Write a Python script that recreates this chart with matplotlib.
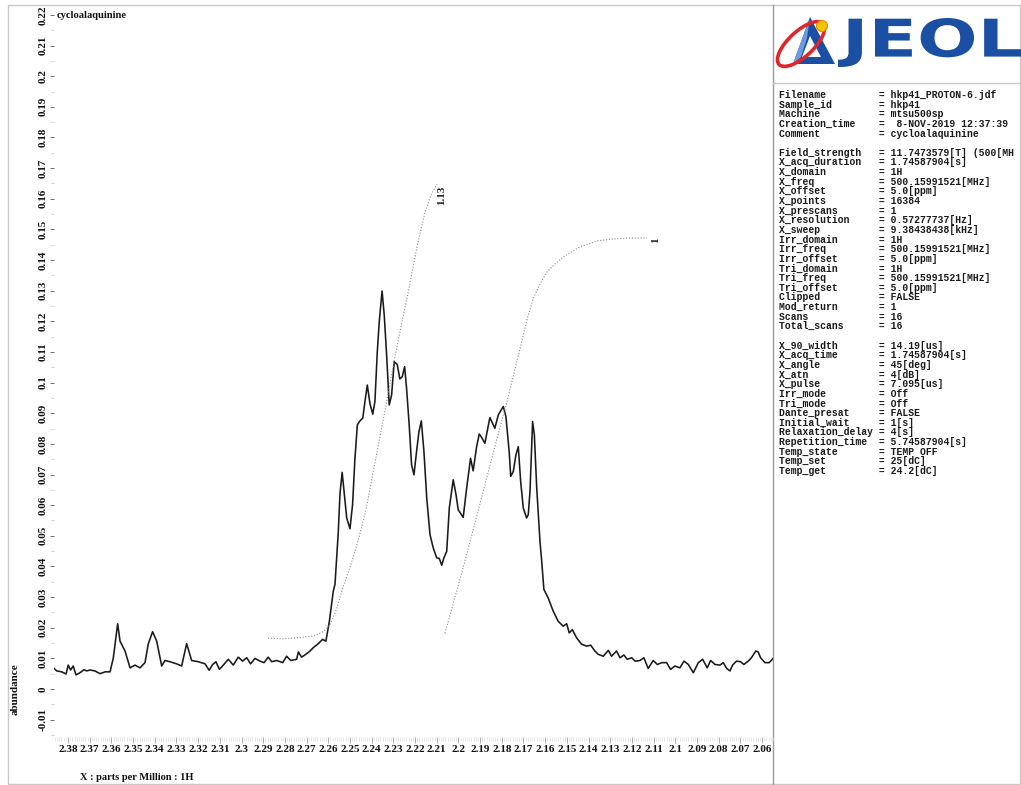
import matplotlib
matplotlib.use("Agg")
import matplotlib.pyplot as plt
from matplotlib.ticker import FixedLocator, MultipleLocator, FuncFormatter
from matplotlib.patches import Rectangle, Polygon, Ellipse, Circle, PathPatch
from matplotlib.textpath import TextPath
from matplotlib.font_manager import FontProperties
from matplotlib.transforms import Affine2D

plt.rcParams["font.family"] = ["Liberation Serif", "DejaVu Serif"]

# ---------------------------------------------------------------- data
title = "cycloalaquinine"
x_label = "X : parts per Million : 1H"
y_label = "abundance"

shift_ppm = [
    2.3871, 2.3852, 2.3829, 2.3809, 2.3799, 2.3788, 2.3776, 2.3763, 2.3745, 2.3726,
    2.3714, 2.3699, 2.3676, 2.3652, 2.3629, 2.3606, 2.3591, 2.3571, 2.3560, 2.3537,
    2.3514, 2.3491, 2.3468, 2.3445, 2.3430, 2.3410, 2.3391, 2.3368, 2.3353, 2.3330,
    2.3299, 2.3276, 2.3253, 2.3230, 2.3199, 2.3168, 2.3149, 2.3133, 2.3118, 2.3102,
    2.3084, 2.3061, 2.3038, 2.3015, 2.2995, 2.2976, 2.2958, 2.2938, 2.2915, 2.2896,
    2.2877, 2.2861, 2.2838, 2.2810, 2.2792, 2.2773, 2.2746, 2.2738, 2.2723, 2.2700,
    2.2684, 2.2669, 2.2646, 2.2626, 2.2611, 2.2595, 2.2577, 2.2569, 2.2554, 2.2546,
    2.2536, 2.2515, 2.2500, 2.2488, 2.2477, 2.2466, 2.2454, 2.2441, 2.2431, 2.2420,
    2.2408, 2.2395, 2.2385, 2.2374, 2.2365, 2.2352, 2.2342, 2.2331, 2.2319, 2.2308,
    2.2296, 2.2282, 2.2270, 2.2259, 2.2248, 2.2239, 2.2227, 2.2216, 2.2205, 2.2193,
    2.2182, 2.2171, 2.2159, 2.2146, 2.2131, 2.2116, 2.2100, 2.2088, 2.2077, 2.2067,
    2.2054, 2.2042, 2.2024, 2.2011, 2.2001, 2.1978, 2.1962, 2.1944, 2.1932, 2.1916,
    2.1904, 2.1893, 2.1878, 2.1855, 2.1832, 2.1816, 2.1793, 2.1781, 2.1766, 2.1759,
    2.1747, 2.1735, 2.1724, 2.1713, 2.1701, 2.1686, 2.1678, 2.1670, 2.1658, 2.1650,
    2.1639, 2.1624, 2.1616, 2.1606, 2.1586, 2.1563, 2.1540, 2.1517, 2.1501, 2.1489,
    2.1475, 2.1455, 2.1432, 2.1409, 2.1390, 2.1371, 2.1355, 2.1332, 2.1309, 2.1294,
    2.1271, 2.1255, 2.1237, 2.1222, 2.1201, 2.1186, 2.1163, 2.1145, 2.1125, 2.1102,
    2.1083, 2.1063, 2.1040, 2.1022, 2.1002, 2.0979, 2.0960, 2.0940, 2.0917, 2.0894,
    2.0874, 2.0853, 2.0837, 2.0817, 2.0794, 2.0779, 2.0763, 2.0748, 2.0736, 2.0718,
    2.0699, 2.0684, 2.0664, 2.0649, 2.0629, 2.0618, 2.0607, 2.0587, 2.0567, 2.0549,
]
abundance = [
    0.0072, 0.0059, 0.0056, 0.0049, 0.0078, 0.0062, 0.0075, 0.0046, 0.0053, 0.0063,
    0.0059, 0.0062, 0.0059, 0.0050, 0.0056, 0.0056, 0.0102, 0.0213, 0.0156, 0.0124,
    0.0069, 0.0078, 0.0069, 0.0086, 0.0147, 0.0187, 0.0156, 0.0075, 0.0093, 0.0089,
    0.0082, 0.0075, 0.0148, 0.0093, 0.0089, 0.0082, 0.0061, 0.0080, 0.0089, 0.0064,
    0.0078, 0.0097, 0.0078, 0.0104, 0.0091, 0.0102, 0.0082, 0.0100, 0.0091, 0.0086,
    0.0104, 0.0089, 0.0093, 0.0086, 0.0107, 0.0093, 0.0097, 0.0121, 0.0104, 0.0115,
    0.0124, 0.0135, 0.0148, 0.0162, 0.0156, 0.0221, 0.0319, 0.0342, 0.0511, 0.0638,
    0.0707, 0.0558, 0.0523, 0.0602, 0.0753, 0.0862, 0.0875, 0.0884, 0.0938, 0.0992,
    0.0932, 0.0897, 0.0938, 0.1101, 0.1199, 0.1299, 0.1220, 0.1090, 0.0927, 0.0960,
    0.1068, 0.1059, 0.1012, 0.1019, 0.1052, 0.0981, 0.0862, 0.0732, 0.0699, 0.0775,
    0.0840, 0.0875, 0.0775, 0.0623, 0.0504, 0.0460, 0.0428, 0.0426, 0.0404, 0.0428,
    0.0449, 0.0591, 0.0683, 0.0634, 0.0585, 0.0560, 0.0656, 0.0753, 0.0712, 0.0791,
    0.0832, 0.0821, 0.0802, 0.0886, 0.0851, 0.0895, 0.0922, 0.0889, 0.0775, 0.0694,
    0.0710, 0.0764, 0.0791, 0.0677, 0.0591, 0.0558, 0.0569, 0.0645, 0.0873, 0.0830,
    0.0656, 0.0482, 0.0417, 0.0325, 0.0297, 0.0254, 0.0221, 0.0205, 0.0213, 0.0183,
    0.0194, 0.0167, 0.0146, 0.0140, 0.0143, 0.0124, 0.0113, 0.0107, 0.0126, 0.0107,
    0.0124, 0.0102, 0.0111, 0.0097, 0.0102, 0.0091, 0.0093, 0.0102, 0.0067, 0.0093,
    0.0080, 0.0086, 0.0086, 0.0064, 0.0075, 0.0069, 0.0091, 0.0080, 0.0053, 0.0086,
    0.0097, 0.0069, 0.0093, 0.0080, 0.0078, 0.0086, 0.0067, 0.0059, 0.0078, 0.0091,
    0.0089, 0.0080, 0.0091, 0.0102, 0.0124, 0.0121, 0.0102, 0.0086, 0.0086, 0.0100,
]

# integral traces (drawn on the abundance scale)
integral1_ppm = [2.2878, 2.2809, 2.2730, 2.2661, 2.2620, 2.2592, 2.2564, 2.2532,
                 2.2500, 2.2463, 2.2426, 2.2380, 2.2334, 2.2297, 2.2265, 2.2233,
                 2.2191, 2.2154, 2.2127, 2.2099]
integral1_val = [0.0166, 0.0164, 0.0168, 0.0174, 0.0189, 0.0208, 0.0257, 0.0332,
                 0.0397, 0.0482, 0.0586, 0.0756, 0.0925, 0.1068, 0.1182, 0.1290,
                 0.1443, 0.1557, 0.1612, 0.1648]
integral2_ppm = [2.2062, 2.1979, 2.1901, 2.1822, 2.1776, 2.1716, 2.1684, 2.1656,
                 2.1624, 2.1592, 2.1555, 2.1518, 2.1440, 2.1361, 2.1288, 2.1209,
                 2.1131]
integral2_val = [0.0182, 0.0394, 0.0603, 0.0818, 0.0938, 0.1111, 0.1205, 0.1273,
                 0.1322, 0.1361, 0.1387, 0.1410, 0.1443, 0.1462, 0.1469, 0.1472,
                 0.1472]
integral_labels = ["1.13", "1"]
integral_label_ppm = [2.2076, 2.1089]
integral_label_val = [0.1612, 0.1466]

x_major = [round(2.38 - 0.01 * i, 2) for i in range(33)]
y_major = [round(-0.01 + 0.01 * i, 2) for i in range(24)]

header_keys = ["Filename", "Sample_id", "Machine", "Creation_time", "Comment"]
header_vals = ["hkp41_PROTON-6.jdf", "hkp41", "mtsu500sp",
               " 8-NOV-2019 12:37:39", "cycloalaquinine"]
acq_keys = ["Field_strength", "X_acq_duration", "X_domain", "X_freq", "X_offset",
            "X_points", "X_prescans", "X_resolution", "X_sweep", "Irr_domain",
            "Irr_freq", "Irr_offset", "Tri_domain", "Tri_freq", "Tri_offset",
            "Clipped", "Mod_return", "Scans", "Total_scans"]
acq_vals = ["11.7473579[T] (500[MH", "1.74587904[s]", "1H", "500.15991521[MHz]",
            "5.0[ppm]", "16384", "1", "0.57277737[Hz]", "9.38438438[kHz]", "1H",
            "500.15991521[MHz]", "5.0[ppm]", "1H", "500.15991521[MHz]", "5.0[ppm]",
            "FALSE", "1", "16", "16"]
pulse_keys = ["X_90_width", "X_acq_time", "X_angle", "X_atn", "X_pulse", "Irr_mode",
              "Tri_mode", "Dante_presat", "Initial_wait", "Relaxation_delay",
              "Repetition_time", "Temp_state", "Temp_set", "Temp_get"]
pulse_vals = ["14.19[us]", "1.74587904[s]", "45[deg]", "4[dB]", "7.095[us]", "Off",
              "Off", "FALSE", "1[s]", "4[s]", "5.74587904[s]", "TEMP OFF", "25[dC]",
              "24.2[dC]"]

# ---------------------------------------------------------------- layout
W, H = 1021, 785
fig = plt.figure(figsize=(W / 100, H / 100), dpi=100)
fig.patch.set_facecolor("white")

# pixel-space overlay for frame, logo and parameter listing
bg = fig.add_axes([0, 0, 1, 1], zorder=0)
bg.set_xlim(0, W)
bg.set_ylim(H, 0)
bg.axis("off")

ax_l, ax_r, ax_t, ax_b = 54, 773, 8, 737
ax = fig.add_axes([ax_l / W, (H - ax_b) / H, (ax_r - ax_l) / W, (ax_b - ax_t) / H],
                  zorder=1)
ax.patch.set_alpha(0)

ppm_per_px = 1 / 2169.0
ab_per_px = 1 / 3064.0
ax.set_xlim(2.38 + (68 - ax_l) * ppm_per_px, 2.38 - (ax_r - 68) * ppm_per_px)
ax.set_ylim((689 - ax_b) * ab_per_px, (689 - ax_t) * ab_per_px)

for s in ax.spines.values():
    s.set_visible(False)


def fmt(v, pos=None):
    s = f"{v:.2f}".rstrip("0").rstrip(".")
    return "0" if s in ("-0", "") else s


ax.xaxis.set_major_locator(FixedLocator(x_major))
ax.xaxis.set_minor_locator(MultipleLocator(0.001))
ax.yaxis.set_major_locator(FixedLocator(y_major))
ax.yaxis.set_minor_locator(MultipleLocator(0.005))
ax.xaxis.set_major_formatter(FuncFormatter(fmt))
ax.yaxis.set_major_formatter(FuncFormatter(fmt))

ax.tick_params(axis="x", which="major", direction="out", length=4, width=0.6,
               color="#a0a0a0", pad=2, labelsize=8)
ax.tick_params(axis="x", which="minor", direction="out", length=3, width=0.4,
               color="#d4d4d4")
ax.tick_params(axis="y", which="major", direction="out", length=3, width=0.7,
               color="#707070", pad=1.5, labelsize=8, labelrotation=90)
ax.tick_params(axis="y", which="minor", direction="out", length=2, width=0.5,
               color="#c4c4c4")
for lbl in ax.get_xticklabels() + ax.get_yticklabels():
    lbl.set_fontweight("bold")
    lbl.set_color("#111111")
for lbl in ax.get_yticklabels():
    lbl.set_va("center")

# spectrum and integrals
ax.plot(shift_ppm, abundance, color="#1a1a1a", lw=1.15, solid_joinstyle="round")
ax.plot(integral1_ppm, integral1_val, color="#8a8a8a", lw=0.8, ls=(0, (1, 1.6)))
ax.plot(integral2_ppm, integral2_val, color="#8a8a8a", lw=0.8, ls=(0, (1, 1.6)))
for lab, xp, yv in zip(integral_labels, integral_label_ppm, integral_label_val):
    ax.text(xp, yv, lab, rotation=90, ha="center", va="center", fontsize=8,
            fontweight="bold", color="#222222")

# titles
bold_serif = dict(fontweight="bold", color="#111111")
bg.text(57, 16, title, fontsize=7.6, ha="left", va="center", **bold_serif)
bg.text(80, 777, x_label, fontsize=7.5, ha="left", va="center", **bold_serif)
bg.text(15, 689, y_label, fontsize=8, rotation=90, ha="center", va="center",
        **bold_serif)

# frame
bg.add_patch(Rectangle((8, 5), W - 9, H - 6, fill=False, ec="#c8c8c8", lw=1.0))
bg.plot([773, 773], [5, H], color="#9a9a9a", lw=1.0)
bg.plot([773, W], [83, 83], color="#c8c8c8", lw=1.0)

# logo mark: hollow triangle, tilted ring and ball
blue = "#1a4fa3"
bg.add_patch(Polygon([(793, 64), (810, 17), (835, 64)], closed=True, fc=blue,
                     ec="none"))
bg.add_patch(Polygon([(793, 64), (810, 17), (807, 38), (801, 57)], closed=True,
                     fc="#6d9be0", ec="none"))
bg.add_patch(Polygon([(802, 57), (810, 36), (821, 57)], closed=True, fc="white",
                     ec="none"))
bg.add_patch(Ellipse((801, 44), 60, 25, angle=-43, fill=False, ec="#e0252b",
                     lw=2.6))
bg.add_patch(Circle((822, 26), 5.5, fc="#f5c400", ec="#e08a00", lw=0.8))

# logotype
tp = TextPath((0, 0), "JEOL", size=100,
              prop=FontProperties(family="DejaVu Sans", weight="bold"))
bb = tp.get_extents()
x0, x1, y0, y1 = 838, 1021, 18, 67
tr = (Affine2D().translate(-bb.x0, -bb.y0)
      .scale((x1 - x0) / bb.width, -(y1 - y0) / bb.height)
      .translate(x0, y1))
bg.add_patch(PathPatch(tr.transform_path(tp), fc=blue, ec="none"))

# parameter listing
mono = dict(family=["Liberation Mono", "DejaVu Sans Mono"], fontsize=7.0,
            fontweight="bold", color="#1a1a1a", ha="left", va="center")
lines = [f"{k:<17}= {v}" for k, v in zip(header_keys, header_vals)]
lines.append("")
lines += [f"{k:<17}= {v}" for k, v in zip(acq_keys, acq_vals)]
lines.append("")
lines += [f"{k:<17}= {v}" for k, v in zip(pulse_keys, pulse_vals)]
step = (471 - 95) / (len(lines) - 1)
for i, ln in enumerate(lines):
    if ln:
        bg.text(779, 95 + i * step, ln, **mono)

fig.savefig("out.png", dpi=100)
